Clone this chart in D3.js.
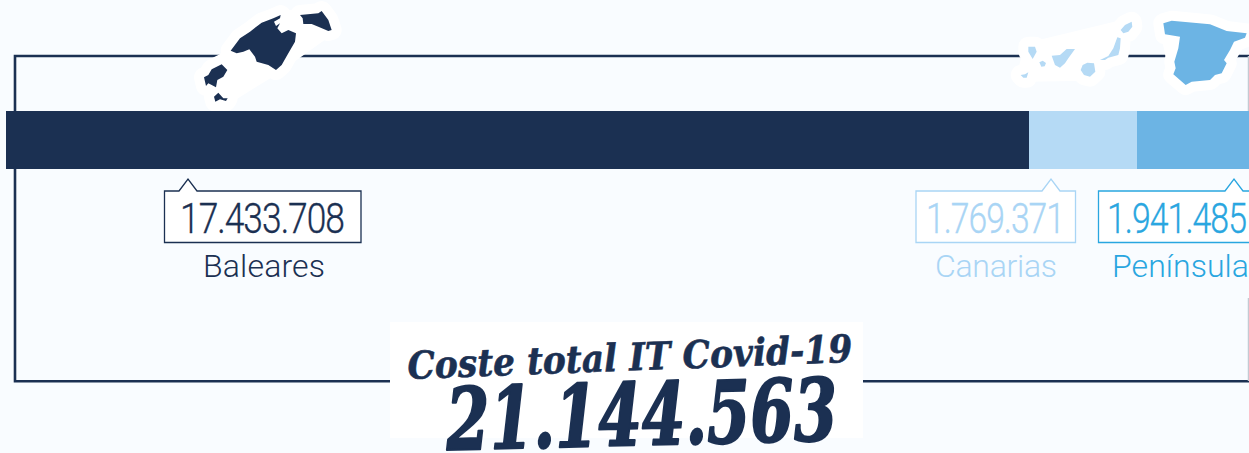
<!DOCTYPE html>
<html lang="es"><head><meta charset="utf-8">
<style>html,body{margin:0;padding:0;background:#f9fcff;overflow:hidden}svg{display:block}</style>
<script src="https://cdn.jsdelivr.net/npm/d3@7/dist/d3.min.js"></script>
</head><body><svg id="c" width="1249" height="453"></svg>
<script>
const regions = ["Baleares","Canarias","Península"];
const values = [17433708,1769371,1941485];
const valueLabels = ["17.433.708","1.769.371","1.941.485"];
const totalLabel = "21.144.563";
const titleLabel = "Coste total IT Covid-19";
const barColors = ["#1b3052","#b5daf5","#6cb4e4"];
const textColors = ["#1b3052","#a9d5f5","#29a6e0"];
const svg=d3.select("#c");
const cum=d3.cumsum(values);
const x=d3.scaleLinear().domain([0,...cum]).range([6,1029,1137,1254]);
const starts=[0,...cum.slice(0,-1)];
svg.append("path").attr("fill","none").attr("stroke","#1b3052").attr("stroke-width",2.6)
  .attr("d","M1249,56H15V381.3H1249");
svg.append("path").attr("fill","none").attr("stroke","#c4cad3").attr("stroke-width",1.5).attr("d","M1248.5,56V111M1248.5,298V381");
const pts=(p,ox,oy)=>p.map(q=>[q[0]/3+ox,q[1]/3+oy]);
const poly=(p,ox,oy)=>d3.line()(pts(p,ox,oy))+"Z";
const baleares=[
 [[122,152],[150,115],[180,95],[215,68],[250,55],[272,45],[270,55],[252,65],[258,78],[270,70],[262,85],[275,100],[295,90],[318,100],[315,125],[295,160],[275,195],[258,210],[235,195],[200,185],[195,170],[178,148],[160,155],[140,160]],
 [[330,45],[385,40],[395,33],[415,60],[425,90],[415,93],[385,80],[365,72],[340,72],[338,55]],
 [[42,232],[55,225],[65,208],[95,193],[112,210],[100,230],[82,240],[78,262],[55,250],[48,258]],
 [[72,290],[85,278],[100,295],[113,295],[108,303],[90,298],[76,305]]];
const canarias=[
 [[55,125],[75,125],[80,140],[68,162],[55,140]],
 [[88,172],[98,167],[108,174],[104,184],[94,185]],
 [[32,210],[45,208],[55,202],[50,218],[40,218]],
 [[125,152],[150,150],[170,132],[195,132],[175,160],[165,175],[150,188],[135,180]],
 [[232,173],[252,175],[256,200],[240,215],[222,210],[212,195],[218,180]],
 [[270,165],[295,153],[310,130],[322,97],[332,100],[330,130],[325,150],[295,158],[285,165]],
 [[332,75],[345,60],[365,50],[367,65],[355,80],[340,85]]];
const peninsula=[[[460,55],[485,47],[600,58],[650,78],[710,85],[705,98],[672,110],[660,135],[642,165],[650,175],[635,205],[615,210],[600,225],[545,230],[527,240],[490,208],[497,190],[493,170],[505,130],[510,95],[465,88]]];
const maps=[[baleares,190,0,barColors[0]],[canarias,1010,5,barColors[1]],[peninsula,1010,5,barColors[2]]];
maps.forEach(([s,ox,oy])=>{
  const d=s.map(p=>poly(p,ox,oy)).join("");
  svg.append("path").attr("d",d).attr("fill","#fff").attr("stroke","#fff").attr("stroke-width",20).attr("stroke-linejoin","round");
  const hull=d3.polygonHull(s.flatMap(p=>pts(p,ox,oy)));
  svg.append("path").attr("d",d3.line()(hull)+"Z").attr("fill","#fff").attr("stroke","#fff").attr("stroke-width",8).attr("stroke-linejoin","round");
});
maps.forEach(([s,ox,oy,col])=>{
  svg.append("path").attr("d",s.map(p=>poly(p,ox,oy)).join("")).attr("fill",col);
});
svg.selectAll("rect.bar").data(values).join("rect").attr("class","bar")
  .attr("x",(d,i)=>x(starts[i])).attr("y",111).attr("height",58)
  .attr("width",(d,i)=>x(cum[i])-x(starts[i])).attr("fill",(d,i)=>barColors[i]);
const boxes=[{l:164.5,r:361,a:188},{l:916,r:1075.5,a:1051},{l:1098.5,r:1275,a:1234}];
const numX=[180,926,1107], numW=[164,138,139];
const lblX=[203,935,1112], lblW=[122,122,137];
regions.forEach((r,i)=>{
  const b=boxes[i],t=191,bt=242.5,c=textColors[i];
  svg.append("path").attr("fill","#fff").attr("stroke",c).attr("stroke-width",1.3)
    .attr("d",`M${b.l},${t}H${b.a-9}L${b.a},${t-12}L${b.a+9},${t}H${b.r}V${bt}H${b.l}Z`);
  svg.append("text").attr("x",numX[i]).attr("y",232.5)
    .attr("font-family","Roboto").attr("font-weight",300).attr("font-size",43).attr("letter-spacing",-1.2)
    .attr("textLength",numW[i]).attr("lengthAdjust","spacingAndGlyphs")
    .attr("stroke",c).attr("stroke-width",0.35).attr("fill",c).text(valueLabels[i]);
  svg.append("text").attr("x",lblX[i]).attr("y",277)
    .attr("font-family","Roboto").attr("font-weight",300).attr("font-size",32)
    .attr("textLength",lblW[i]).attr("lengthAdjust","spacing")
    .attr("fill",c).text(r);
});
svg.append("rect").attr("x",390).attr("y",322).attr("width",473).attr("height",116).attr("fill","#fff");
svg.append("text").attr("transform","translate(408,379) rotate(-2.2)")
  .attr("font-family","DejaVu Serif").attr("font-style","italic").attr("font-weight",700).attr("font-size",38)
  .attr("textLength",445).attr("lengthAdjust","spacingAndGlyphs")
  .attr("stroke","#1b3052").attr("stroke-width",0.6).attr("fill","#1b3052").text(titleLabel);
svg.append("text").attr("transform","translate(447,450) rotate(-1.5)")
  .attr("font-family","DejaVu Serif").attr("font-style","italic").attr("font-weight",700).attr("font-size",86)
  .attr("textLength",391).attr("lengthAdjust","spacingAndGlyphs")
  .attr("stroke","#1b3052").attr("stroke-width",2.2).attr("stroke-linejoin","round").attr("fill","#1b3052").text(totalLabel);
</script></body></html>
